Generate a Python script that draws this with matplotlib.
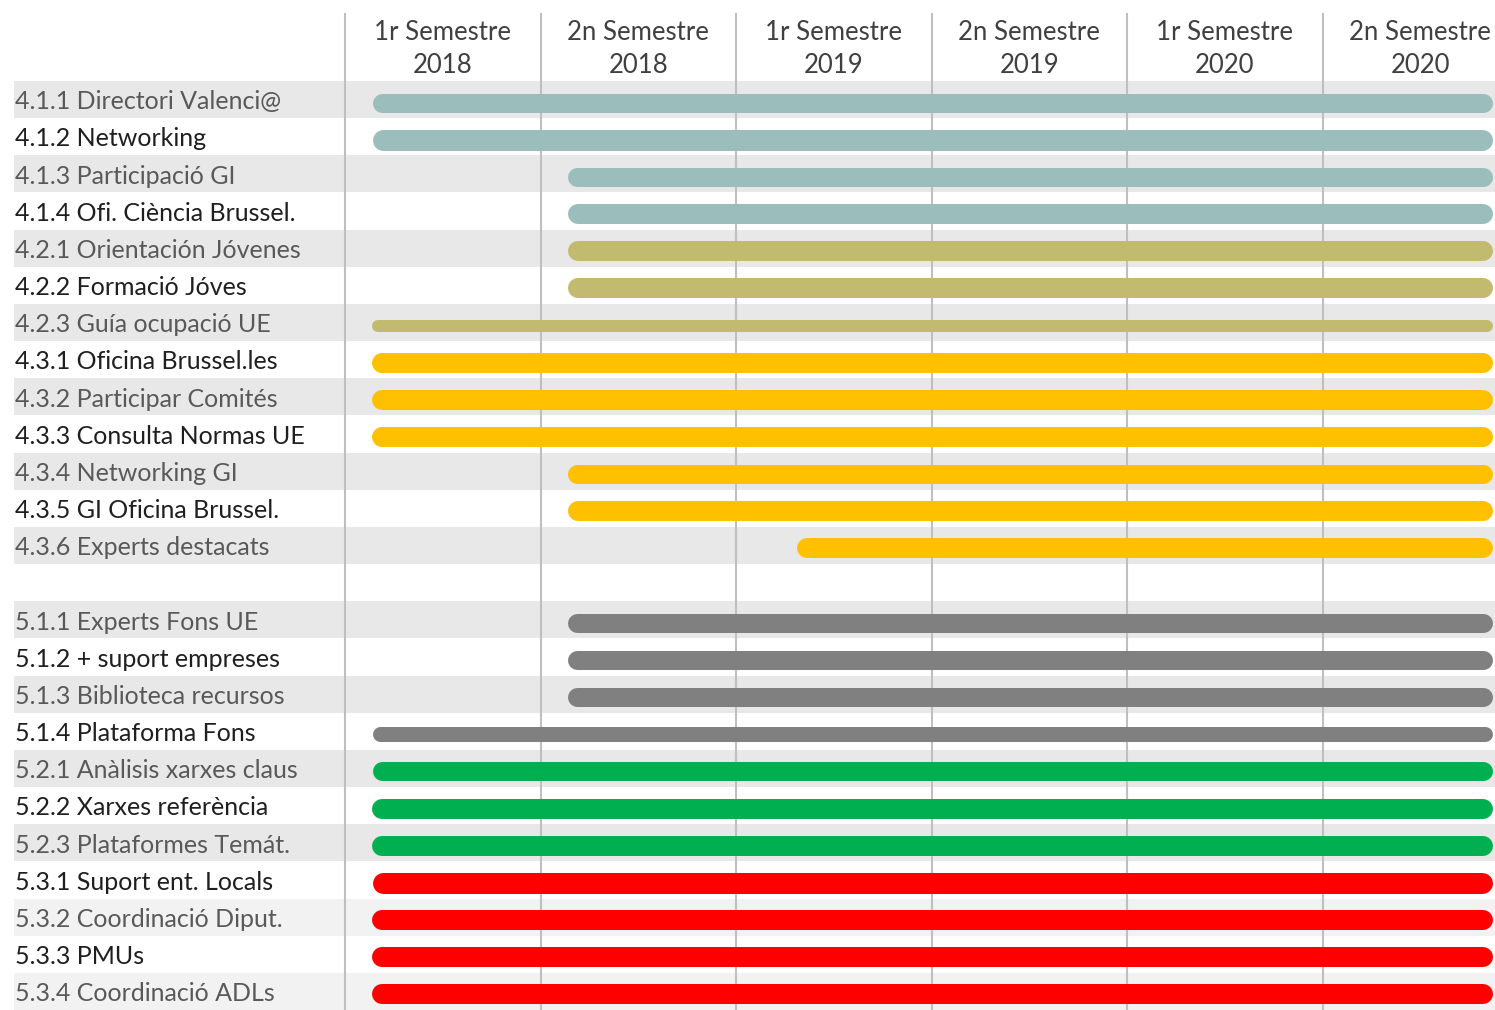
import numpy as np
import matplotlib.pyplot as plt

plt.rcParams['font.family'] = ['Lato', 'DejaVu Sans']

# Capçaleres de columna (semestres)
semestres = ["1r Semestre\n2018", "2n Semestre\n2018", "1r Semestre\n2019",
             "2n Semestre\n2019", "1r Semestre\n2020", "2n Semestre\n2020"]

# Tasques (None = fila buida de separació)
tasques = ["4.1.1 Directori Valenci@", "4.1.2 Networking", "4.1.3 Participació GI",
           "4.1.4 Ofi. Ciència Brussel.", "4.2.1 Orientación Jóvenes", "4.2.2 Formació Jóves",
           "4.2.3 Guía ocupació UE", "4.3.1 Oficina Brussel.les", "4.3.2 Participar Comités",
           "4.3.3 Consulta Normas UE", "4.3.4 Networking GI", "4.3.5 GI Oficina Brussel.",
           "4.3.6 Experts destacats", None,
           "5.1.1 Experts Fons UE", "5.1.2 + suport empreses", "5.1.3 Biblioteca recursos",
           "5.1.4 Plataforma Fons", "5.2.1 Anàlisis xarxes claus", "5.2.2 Xarxes referència",
           "5.2.3 Plataformes Temát.", "5.3.1 Suport ent. Locals", "5.3.2 Coordinació Diput.",
           "5.3.3 PMUs", "5.3.4 Coordinació ADLs"]

# Inici i final de cada barra (en semestres, 0 = inici 1r sem. 2018)
inici = [0.14, 0.14, 1.14, 1.14, 1.14, 1.14, 0.14, 0.14, 0.14, 0.14, 1.14, 1.14, 2.31, None,
         1.14, 1.14, 1.14, 0.14, 0.14, 0.14, 0.14, 0.14, 0.14, 0.14, 0.14]
final = [5.87] * 25

grups = ["teal"] * 4 + ["olive"] * 3 + ["groc"] * 6 + [None] + ["gris"] * 4 + ["verd"] * 3 + ["roig"] * 4
gruix_px = [19, 21, 19, 20, 20, 20, 12, 20, 20, 20, 19, 20, 20, 0,
            19, 19, 19, 15, 19, 20, 20, 21, 20, 20, 20]

colors = {"teal": "#9BBDBB", "olive": "#C1BA6F", "groc": "#FFC000",
          "gris": "#808080", "verd": "#00B050", "roig": "#FF0000"}

W, H, DPI = 1495, 1010, 100
fig = plt.figure(figsize=(W / DPI, H / DPI), dpi=DPI)
ax = fig.add_axes([0, 0, 1, 1])
ax.axis("off")

col_px, x0_px = 195.5, 345
fila_px, y0_px = 929 / 25, 81
ax.set_xlim(-x0_px / col_px, (W - x0_px) / col_px)
ax.set_ylim(len(tasques) - 0.5, -0.5 - y0_px / fila_px)

n = len(tasques)
ys = np.arange(n)

# Bandes de fons alternes
for i in ys:
    if tasques[i] is None or i % 2 == 1:
        continue
    c = "#F2F2F2" if i >= 22 else "#E8E8E8"
    ax.axhspan(i - 0.5, i + 0.5, xmin=14 / W, xmax=1, color=c, lw=0, zorder=0)

# Línies verticals de columna
ax.vlines(np.arange(len(semestres)), n - 0.5, -0.5 - (y0_px - 13) / fila_px,
          colors="#BFBFBF", lw=1.5, zorder=1)

# Capçaleres
for k, s in enumerate(semestres):
    ax.text(k + 0.5, -0.5 - (y0_px - 49) / fila_px, s, ha="center", va="center",
            fontsize=18.5, color="#404040", linespacing=1.4)

# Etiquetes i barres
for i, t in enumerate(tasques):
    if t is None:
        continue
    fosc = i % 2 == 1
    ax.text(15 / W, i + 0.06, t, transform=ax.get_yaxis_transform(), ha="left", va="center",
            fontsize=18, color="#1F1F1F" if fosc else "#595959")
    lw = gruix_px[i] * 72 / DPI
    cap = gruix_px[i] / 2 / col_px
    ax.plot([inici[i] + cap, final[i] - cap], [i + 0.08, i + 0.08], color=colors[grups[i]],
            lw=lw, solid_capstyle="round", zorder=2)

fig.savefig("out.png", dpi=DPI)
